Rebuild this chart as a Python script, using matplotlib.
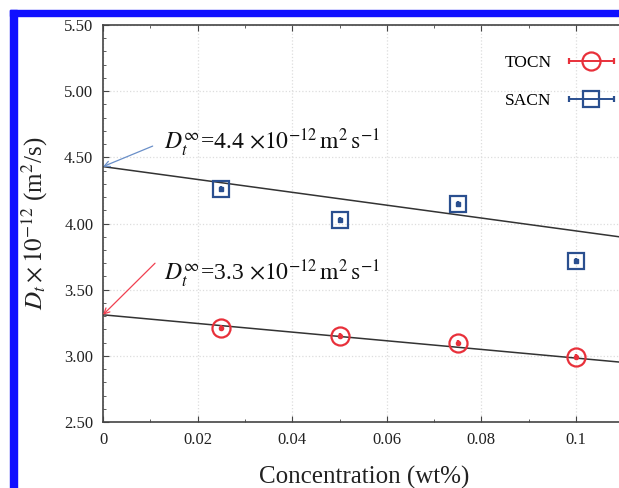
import numpy as np
import matplotlib
matplotlib.use("Agg")
import matplotlib.pyplot as plt
from matplotlib.patches import Rectangle
from matplotlib.ticker import MultipleLocator, FixedLocator, FixedFormatter
from matplotlib.container import ErrorbarContainer
from matplotlib.legend_handler import HandlerErrorbar

plt.rcParams['font.family'] = ['Liberation Serif', 'DejaVu Serif']
plt.rcParams['mathtext.fontset'] = 'stix'

# Data
concentration = [0.025, 0.05, 0.075, 0.1]
tocn = [3.21, 3.15, 3.10, 2.99]
sacn = [4.26, 4.03, 4.15, 3.72]
series_names = ["TOCN", "SACN"]
fit_intercepts = [3.31, 4.43]
fit_slopes = [-3.27, -4.86]
annot_texts = [r"$D_t^{\infty}$=3.3 $\times 10^{-12}\,\mathrm{m^2\,s^{-1}}$",
               r"$D_t^{\infty}$=4.4 $\times 10^{-12}\,\mathrm{m^2\,s^{-1}}$"]
xticks = [0, 0.02, 0.04, 0.06, 0.08, 0.1]
xticklabels = ["0", "0.02", "0.04", "0.06", "0.08", "0.1"]
yticks = [2.5, 3.0, 3.5, 4.0, 4.5, 5.0, 5.5]

W, H = 619, 488
fig = plt.figure(figsize=(W / 100, H / 100), dpi=100)
# blue frame
fig.patches.append(Rectangle((10 / W, 0), 7 / W, 1 - 10 / H, transform=fig.transFigure,
                             color='#1010ff', zorder=0))
fig.patches.append(Rectangle((10 / W, 1 - 16 / H), 1, 6 / H, transform=fig.transFigure,
                             color='#1010ff', zorder=0))

x0, x1 = 0.0, 0.1105
px_per_x = (576 - 103) / 0.1
left = 103 / W
width = (x1 - x0) * px_per_x / W
bottom = 1 - 422 / H
height = (422 - 25) / H
ax = fig.add_axes([left, bottom, width, height])
ax.set_xlim(x0, x1)
ax.set_ylim(2.5, 5.5)

colors = ['#e8303a', '#2a4f8f']
markers = ['o', 's']
msizes = [13, 11.5]
handles = []
for vals, name, c, m, ms in zip([tocn, sacn], series_names, colors, markers, msizes):
    h = ax.errorbar(concentration, vals, xerr=0.0, fmt=m, ms=ms, mfc='none', mec=c,
                    mew=1.6, ecolor=c, elinewidth=1.4, capsize=2.5, color=c, label=name, zorder=4)
    handles.append(h)
ax.plot(concentration, tocn, 'o', ms=3, color=colors[0], zorder=5)
ax.plot(concentration, sacn, 's', ms=3.5, color=colors[1], zorder=5)

xx = np.array([x0, x1])
for b, s in zip(fit_intercepts, fit_slopes):
    ax.plot(xx, b + s * xx, color='#333333', lw=1.1, zorder=3)

ax.text(0.0128, 4.61, annot_texts[1], fontsize=17, va='center', ha='left', color='#111111')
ax.text(0.0128, 3.62, annot_texts[0], fontsize=17, va='center', ha='left', color='#111111')
ax.annotate("", xy=(0, fit_intercepts[1]), xytext=(0.0105, 4.585),
            arrowprops=dict(arrowstyle='->', color='#6a8fc8', lw=0.9, shrinkA=0, shrinkB=0,
                            mutation_scale=10))
ax.annotate("", xy=(0, fit_intercepts[0]), xytext=(0.011, 3.70),
            arrowprops=dict(arrowstyle='->', color='#f04050', lw=0.9, shrinkA=0, shrinkB=0,
                            mutation_scale=10))

ax.xaxis.set_major_locator(FixedLocator(xticks))
ax.xaxis.set_major_formatter(FixedFormatter(xticklabels))
ax.xaxis.set_minor_locator(MultipleLocator(0.01))
ax.yaxis.set_major_locator(FixedLocator(yticks))
ax.set_yticklabels([f"{v:.2f}" for v in yticks])
ax.yaxis.set_minor_locator(MultipleLocator(0.1))
ax.tick_params(which='both', direction='in', top=True, right=False, colors='#444444',
               labelcolor='#222222', labelsize=12)
ax.tick_params(which='major', length=4, pad=7)
ax.tick_params(which='minor', length=2.5)
for sp in ['left', 'bottom', 'top']:
    ax.spines[sp].set_color('#444444')
    ax.spines[sp].set_linewidth(1.2)
ax.spines['right'].set_visible(False)
ax.grid(True, which='major', color='#dddddd', linestyle=':', linewidth=0.9)

ax.set_xlabel("Concentration (wt%)", fontsize=18, labelpad=13, color='#222222')
ax.set_ylabel(r"$D_t \times 10^{-12}$ (m$^2$/s)", fontsize=18, labelpad=10, color='#222222')

fig.legend(handles=handles, loc='upper right', bbox_to_anchor=(626 / W, 1 - 46 / H),
           frameon=False, markerfirst=False, fontsize=12.5, handlelength=3.0,
           labelspacing=1.25, handletextpad=0.8, borderpad=0,
           handler_map={ErrorbarContainer: HandlerErrorbar(xerr_size=1.3)})

fig.savefig("out.png", dpi=100)
